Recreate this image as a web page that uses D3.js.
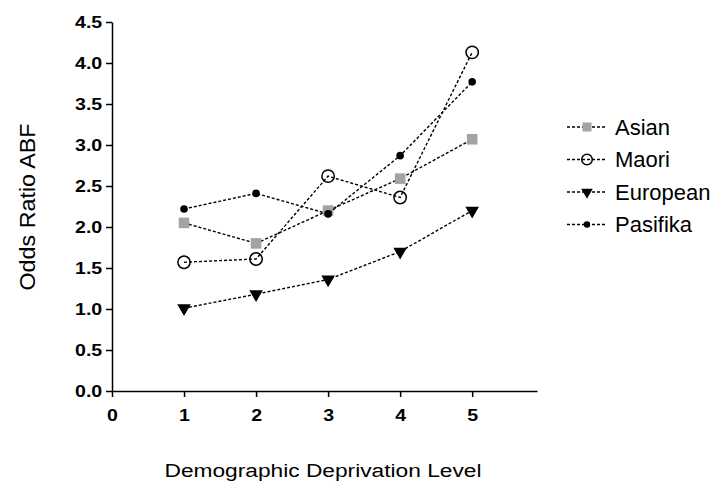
<!DOCTYPE html>
<html>
<head>
<meta charset="utf-8">
<script src="https://cdn.jsdelivr.net/npm/d3@7"></script>
<style>
  body { margin: 0; background: #fff; }
  svg { font-family: "Liberation Sans", Arial, sans-serif; }
  .axis path, .axis line { stroke: #000; stroke-width: 1.5; }
  .axis text { font-size: 17px; font-weight: bold; fill: #000; }
  .serie { fill: none; stroke: #000; stroke-width: 1.4; stroke-dasharray: 3,2; }
</style>
</head>
<body>
<div id="chart"></div>
<script>
const width = 713;
const height = 484;

// data
const levels = [1, 2, 3, 4, 5];
const asian = [2.05, 1.80, 2.20, 2.59, 3.07];
const maori = [1.57, 1.61, 2.62, 2.36, 4.13];
const european = [1.01, 1.18, 1.36, 1.70, 2.20];
const pasifika = [2.22, 2.41, 2.16, 2.87, 3.77];
const seriesNames = ["Asian", "Maori", "European", "Pasifika"];
const yTicks = [0, 0.5, 1, 1.5, 2, 2.5, 3, 3.5, 4, 4.5];
const xTicks = [0, 1, 2, 3, 4, 5];

const slices = [
  { id: seriesNames[0], shape: "square", values: asian },
  { id: seriesNames[1], shape: "circle", values: maori },
  { id: seriesNames[2], shape: "triangle", values: european },
  { id: seriesNames[3], shape: "dot", values: pasifika }
].map(function(s) {
  return {
    id: s.id,
    shape: s.shape,
    values: s.values.map(function(v, i) { return { level: levels[i], measurement: v }; })
  };
});

const svg = d3.select("#chart").append("svg")
    .attr("width", width)
    .attr("height", height);

const xScale = d3.scaleLinear().domain([0, 5.9]).range([112, 537]);
const yScale = d3.scaleLinear().domain([0, 4.5]).range([391, 22]);

const xaxis = d3.axisBottom(xScale)
    .tickValues(xTicks)
    .tickFormat(d3.format("d"))
    .tickSize(6)
    .tickSizeOuter(0)
    .tickPadding(12);

const yaxis = d3.axisLeft(yScale)
    .tickValues(yTicks)
    .tickFormat(d3.format(".1f"))
    .tickSize(6)
    .tickSizeOuter(0);

const gx = svg.append("g")
    .attr("class", "axis")
    .attr("transform", "translate(0," + yScale(0) + ")")
    .call(xaxis);
gx.selectAll(".tick text").attr("transform", "scale(1.15,1)");

const gy = svg.append("g")
    .attr("class", "axis")
    .attr("transform", "translate(" + xScale(0) + ",0)")
    .call(yaxis);
gy.selectAll(".tick text")
    .attr("x", -8.5)
    .attr("transform", "scale(1.15,1)");

// axis titles
svg.append("text")
    .attr("x", 323)
    .attr("y", 477)
    .attr("text-anchor", "middle")
    .attr("font-size", 18)
    .attr("textLength", 317)
    .attr("lengthAdjust", "spacingAndGlyphs")
    .text("Demographic Deprivation Level");

svg.append("text")
    .attr("transform", "translate(35,207) rotate(-90)")
    .attr("text-anchor", "middle")
    .attr("font-size", 22)
    .attr("textLength", 167)
    .attr("lengthAdjust", "spacingAndGlyphs")
    .text("Odds Ratio ABF");

const line = d3.line()
    .x(function(d) { return xScale(d.level); })
    .y(function(d) { return yScale(d.measurement); });

function drawMarker(sel, shape, small) {
  const k = small ? 0.85 : 1;
  if (shape === "square") {
    sel.append("path")
      .attr("d", d3.symbol().type(d3.symbolSquare).size(112 * k * k))
      .attr("fill", "#a3a3a3");
  } else if (shape === "circle") {
    sel.append("circle")
      .attr("r", 6.2 * k)
      .attr("fill", "none")
      .attr("stroke", "#000")
      .attr("stroke-width", 1.5);
  } else if (shape === "triangle") {
    sel.append("path")
      .attr("d", d3.symbol().type(d3.symbolTriangle).size(80 * k * k))
      .attr("transform", "rotate(180)")
      .attr("fill", "#000");
  } else {
    sel.append("circle")
      .attr("r", 3.8 * k)
      .attr("fill", "#000");
  }
}

const lines = svg.selectAll(".series")
    .data(slices)
    .enter()
    .append("g")
    .attr("class", "series");

lines.append("path")
    .attr("class", "serie")
    .attr("d", function(d) { return line(d.values); });

lines.each(function(s) {
  d3.select(this).selectAll(".pt")
    .data(s.values)
    .enter()
    .append("g")
    .attr("class", "pt")
    .attr("transform", function(d) {
      return "translate(" + xScale(d.level) + "," + yScale(d.measurement) + ")";
    })
    .each(function() { drawMarker(d3.select(this), s.shape, false); });
});

// legend
const legend = svg.selectAll(".legend")
    .data(slices)
    .enter()
    .append("g")
    .attr("class", "legend")
    .attr("transform", function(d, i) { return "translate(0," + (127 + i * 32.5) + ")"; });

legend.append("line")
    .attr("class", "serie")
    .attr("x1", 567)
    .attr("x2", 607)
    .attr("y1", 0)
    .attr("y2", 0);

legend.append("g")
    .attr("transform", "translate(587,0)")
    .each(function(d) { drawMarker(d3.select(this), d.shape, true); });

legend.append("text")
    .attr("x", 615)
    .attr("y", 7.5)
    .attr("font-size", 22)
    .text(function(d) { return d.id; });
</script>
</body>
</html>
